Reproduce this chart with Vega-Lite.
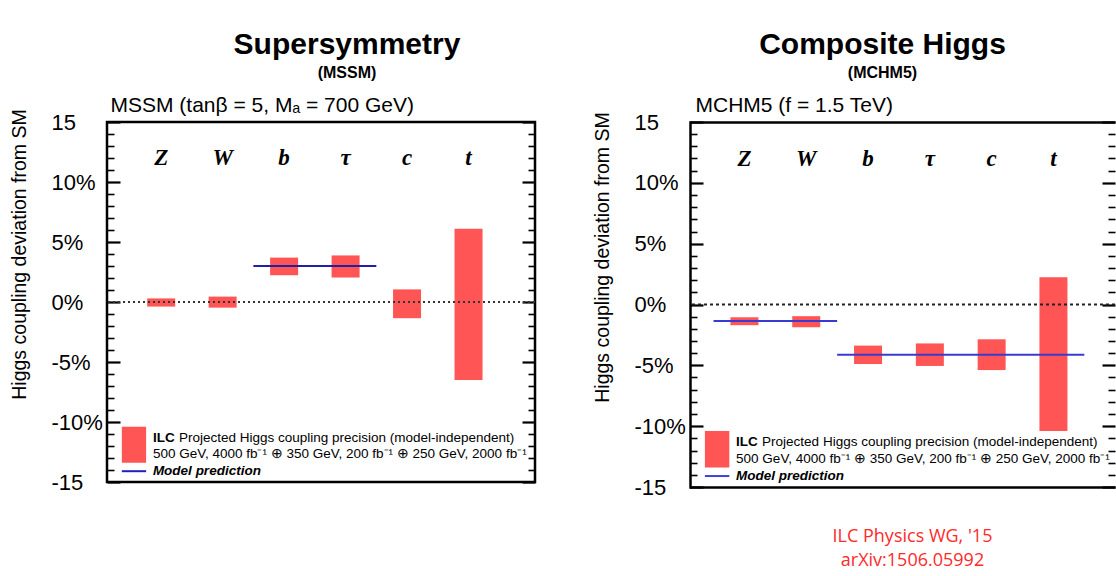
{
  "$schema": "https://vega.github.io/schema/vega-lite/v6.json",
  "background": "white",
  "padding": {"left": 7, "top": 28, "right": 0, "bottom": 0},
  "bounds": "flush",
  "spacing": 155,
  "config": {
    "view": {"stroke": "black", "strokeWidth": 2.5},
    "axis": {"grid": false},
    "font": "Liberation Sans"
  },
  "datasets": {
    "mssm_bars": [
      {"particle": "Z", "x": 1, "lo": -0.38, "hi": 0.3},
      {"particle": "W", "x": 2, "lo": -0.47, "hi": 0.45},
      {"particle": "b", "x": 3, "lo": 2.23, "hi": 3.7},
      {"particle": "τ", "x": 4, "lo": 2.04, "hi": 3.88},
      {"particle": "c", "x": 5, "lo": -1.35, "hi": 1.05},
      {"particle": "t", "x": 6, "lo": -6.5, "hi": 6.1}
    ],
    "mssm_model": [
      {"x": 2.5, "x2": 4.5, "y": 3.0}
    ],
    "mchm_bars": [
      {"particle": "Z", "x": 1, "lo": -1.7, "hi": -1.05},
      {"particle": "W", "x": 2, "lo": -1.87, "hi": -0.96},
      {"particle": "b", "x": 3, "lo": -4.89, "hi": -3.38},
      {"particle": "τ", "x": 4, "lo": -5.05, "hi": -3.2},
      {"particle": "c", "x": 5, "lo": -5.39, "hi": -2.86},
      {"particle": "t", "x": 6, "lo": -10.4, "hi": 2.23}
    ],
    "mchm_model": [
      {"x": 0.5, "x2": 2.5, "y": -1.35},
      {"x": 2.5, "x2": 6.5, "y": -4.12}
    ],
    "particles": [
      {"label": "Z", "x": 1},
      {"label": "W", "x": 2},
      {"label": "b", "x": 3},
      {"label": "τ", "x": 4},
      {"label": "c", "x": 5},
      {"label": "t", "x": 6}
    ]
  },
  "hconcat": [
    {
      "width": 428,
      "height": 360,
      "title": {"text": "Supersymmetry", "subtitle": "(MSSM)", "fontSize": 30, "fontWeight": "bold", "font": "Liberation Sans", "color": "black", "subtitleFont": "Liberation Sans", "subtitleFontSize": 16, "subtitleFontWeight": "bold", "subtitleColor": "black", "anchor": "middle", "dx": 26, "offset": 13, "subtitlePadding": 5},
      "layer": [
        {
          "data": {"name": "mssm_bars"},
          "mark": {"type": "bar", "color": "#ff5555", "size": 28},
          "encoding": {
            "x": {"field": "x", "type": "quantitative", "scale": {"domain": [0.2, 7], "nice": false, "zero": false},
              "axis": {"orient": "top", "labels": false, "ticks": false, "domain": false, "grid": false, "title": "MSSM (tanβ = 5, Mₐ = 700 GeV)", "titleFontSize": 21, "titleFontWeight": "normal", "titleColor": "black", "titleFont": "Liberation Sans", "titleAnchor": "start", "titleAlign": "left", "titleX": 3, "titlePadding": 7}},
            "y": {"field": "lo", "type": "quantitative", "scale": {"domain": [-15, 15], "nice": false, "zero": false},
              "axis": {"orient": "left", "values": [-15,-14,-13,-12,-11,-10,-9,-8,-7,-6,-5,-4,-3,-2,-1,0,1,2,3,4,5,6,7,8,9,10,11,12,13,14,15], "domain": false, "grid": false, "tickColor": "black",
                "tickSize": {"condition": {"test": "datum.value % 5 === 0", "value": -13}, "value": -7},
                "tickWidth": {"condition": {"test": "datum.value % 5 === 0", "value": 2.2}, "value": 1.6},
                "labelExpr": "datum.value % 5 !== 0 ? '' : (datum.value < 0 ? '-' : '') + abs(datum.value) + (abs(datum.value) === 15 ? '' : '%')",
                "labelAlign": "left", "labelBaseline": "middle", "labelPadding": 69, "labelFontSize": 22, "labelFont": "Liberation Sans", "labelColor": "black", "labelFlush": false, "labelOverlap": false, "labelBound": false,
                "title": "Higgs coupling deviation from SM", "titleFontSize": 19.5, "titleFontWeight": "normal", "titleColor": "black", "titleFont": "Liberation Sans", "titlePadding": 16, "titleY": 132}},
            "y2": {"field": "hi"}
          }
        },
        {
          "data": {"values": [{}]},
          "mark": {"type": "rule", "strokeDash": [2, 3], "color": "#333333", "strokeWidth": 2},
          "encoding": {
            "y": {"datum": 0, "type": "quantitative",
              "axis": {"orient": "right", "values": [-15,-14,-13,-12,-11,-10,-9,-8,-7,-6,-5,-4,-3,-2,-1,0,1,2,3,4,5,6,7,8,9,10,11,12,13,14,15], "domain": false, "grid": false, "labels": false, "title": null, "tickColor": "black",
                "tickSize": {"condition": {"test": "datum.value % 5 === 0", "value": -13}, "value": -7},
                "tickWidth": {"condition": {"test": "datum.value % 5 === 0", "value": 2.2}, "value": 1.6}}}
          }
        },
        {
          "data": {"name": "mssm_model"},
          "mark": {"type": "rule", "color": "#1f1fa8", "strokeWidth": 2},
          "encoding": {
            "x": {"field": "x", "type": "quantitative", "axis": null},
            "x2": {"field": "x2"},
            "y": {"field": "y", "type": "quantitative", "axis": null}
          }
        },
        {
          "data": {"name": "particles"},
          "mark": {"type": "text", "font": "Liberation Serif", "fontStyle": "italic", "fontWeight": "bold", "fontSize": 23, "align": "center", "baseline": "middle", "color": "black"},
          "encoding": {
            "x": {"field": "x", "type": "quantitative", "axis": null},
            "y": {"datum": 12, "type": "quantitative", "axis": null},
            "text": {"field": "label"}
          }
        },
        {
          "data": {"values": [{}]},
          "mark": {"type": "rect", "color": "#ff5555"},
          "encoding": {
            "x": {"datum": 0.36, "type": "quantitative", "axis": null},
            "x2": {"datum": 0.755},
            "y": {"datum": -10.4, "type": "quantitative", "axis": null},
            "y2": {"datum": -13.4}
          }
        },
        {
          "data": {"values": [{}]},
          "mark": {"type": "rule", "color": "#2020c0", "strokeWidth": 2},
          "encoding": {
            "x": {"datum": 0.36, "type": "quantitative", "axis": null},
            "x2": {"datum": 0.755},
            "y": {"datum": -14.1, "type": "quantitative", "axis": null}
          }
        },
        {
          "data": {"values": [{}]},
          "mark": {"type": "text", "align": "left", "baseline": "middle", "fontSize": 13.5, "fontWeight": "bold", "font": "Liberation Sans", "color": "black"},
          "encoding": {
            "x": {"datum": 0.865, "type": "quantitative", "axis": null},
            "y": {"datum": -11.3, "type": "quantitative", "axis": null},
            "text": {"value": "ILC"}
          }
        },
        {
          "data": {"values": [{}]},
          "mark": {"type": "text", "align": "left", "baseline": "middle", "fontSize": 13.5, "font": "Liberation Sans", "color": "black", "dx": 26},
          "encoding": {
            "x": {"datum": 0.865, "type": "quantitative", "axis": null},
            "y": {"datum": -11.3, "type": "quantitative", "axis": null},
            "text": {"value": "Projected Higgs coupling precision (model-independent)"}
          }
        },
        {
          "data": {"values": [{}]},
          "mark": {"type": "text", "align": "left", "baseline": "middle", "fontSize": 13.5, "font": "Liberation Sans", "color": "black"},
          "encoding": {
            "x": {"datum": 0.865, "type": "quantitative", "axis": null},
            "y": {"datum": -12.7, "type": "quantitative", "axis": null},
            "text": {"value": "500 GeV, 4000 fb⁻¹ ⊕ 350 GeV, 200 fb⁻¹ ⊕ 250 GeV, 2000 fb⁻¹"}
          }
        },
        {
          "data": {"values": [{}]},
          "mark": {"type": "text", "align": "left", "baseline": "middle", "fontSize": 13.5, "fontWeight": "bold", "fontStyle": "italic", "font": "Liberation Sans", "color": "black"},
          "encoding": {
            "x": {"datum": 0.865, "type": "quantitative", "axis": null},
            "y": {"datum": -14.1, "type": "quantitative", "axis": null},
            "text": {"value": "Model prediction"}
          }
        }
      ],
      "resolve": {"axis": {"x": "independent", "y": "independent"}}
    },
    {
      "width": 425,
      "height": 365,
      "view": {"stroke": null},
      "title": {"text": "Composite Higgs", "subtitle": "(MCHM5)", "fontSize": 30, "fontWeight": "bold", "font": "Liberation Sans", "color": "black", "subtitleFont": "Liberation Sans", "subtitleFontSize": 16, "subtitleFontWeight": "bold", "subtitleColor": "black", "anchor": "middle", "dx": -20, "offset": 13, "subtitlePadding": 5},
      "layer": [
        {
          "data": {"name": "mchm_bars"},
          "mark": {"type": "bar", "color": "#ff5555", "size": 28},
          "encoding": {
            "x": {"field": "x", "type": "quantitative", "scale": {"domain": [0.2, 6.915], "nice": false, "zero": false},
              "axis": {"orient": "top", "labels": false, "ticks": false, "domain": true, "domainColor": "black", "domainWidth": 2.5, "grid": false, "title": "MCHM5 (f = 1.5 TeV)", "titleFontSize": 21, "titleFontWeight": "normal", "titleColor": "black", "titleFont": "Liberation Sans", "titleAnchor": "start", "titleAlign": "left", "titleX": 5, "titlePadding": 7}},
            "y": {"field": "lo", "type": "quantitative", "scale": {"domain": [-15, 15], "nice": false, "zero": false},
              "axis": {"orient": "left", "values": [-15,-14,-13,-12,-11,-10,-9,-8,-7,-6,-5,-4,-3,-2,-1,0,1,2,3,4,5,6,7,8,9,10,11,12,13,14,15], "domain": true, "domainColor": "black", "domainWidth": 2.5, "domainCap": "square", "grid": false, "tickColor": "black",
                "tickSize": {"condition": {"test": "datum.value % 5 === 0", "value": -13}, "value": -7},
                "tickWidth": {"condition": {"test": "datum.value % 5 === 0", "value": 2.2}, "value": 1.6},
                "labelExpr": "datum.value % 5 !== 0 ? '' : (datum.value < 0 ? '-' : '') + abs(datum.value) + (abs(datum.value) === 15 ? '' : '%')",
                "labelAlign": "left", "labelBaseline": "middle", "labelPadding": 69, "labelFontSize": 22, "labelFont": "Liberation Sans", "labelColor": "black", "labelFlush": false, "labelOverlap": false, "labelBound": false,
                "title": "Higgs coupling deviation from SM", "titleFontSize": 19.5, "titleFontWeight": "normal", "titleColor": "black", "titleFont": "Liberation Sans", "titlePadding": 16, "titleY": 135}},
            "y2": {"field": "hi"}
          }
        },
        {
          "data": {"values": [{}]},
          "mark": {"type": "rule", "strokeDash": [3, 3], "color": "#222222", "strokeWidth": 2},
          "encoding": {
            "y": {"datum": 0, "type": "quantitative",
              "axis": {"orient": "right", "values": [-15,-14,-13,-12,-11,-10,-9,-8,-7,-6,-5,-4,-3,-2,-1,0,1,2,3,4,5,6,7,8,9,10,11,12,13,14,15], "domain": false, "grid": false, "labels": false, "title": null, "tickColor": "black",
                "tickSize": {"condition": {"test": "datum.value % 5 === 0", "value": -13}, "value": -7},
                "tickWidth": {"condition": {"test": "datum.value % 5 === 0", "value": 2.2}, "value": 1.6}}}
          }
        },
        {
          "data": {"name": "mchm_model"},
          "mark": {"type": "rule", "color": "#3a3ad0", "strokeWidth": 2},
          "encoding": {
            "x": {"field": "x", "type": "quantitative", "axis": null},
            "x2": {"field": "x2"},
            "y": {"field": "y", "type": "quantitative", "axis": null}
          }
        },
        {
          "data": {"name": "particles"},
          "mark": {"type": "text", "font": "Liberation Serif", "fontStyle": "italic", "fontWeight": "bold", "fontSize": 23, "align": "center", "baseline": "middle", "color": "black"},
          "encoding": {
            "x": {"field": "x", "type": "quantitative",
              "axis": {"orient": "bottom", "labels": false, "ticks": false, "domain": true, "domainColor": "black", "domainWidth": 2.5, "grid": false, "title": ["ILC Physics WG, '15", "arXiv:1506.05992"], "titleColor": "#ff2a2a", "titleFontSize": 18, "titleFontWeight": "normal", "titleFont": "Open Sans", "titlePadding": 40, "titleX": 222, "titleLineHeight": 24}},
            "y": {"datum": 12, "type": "quantitative", "axis": null},
            "text": {"field": "label"}
          }
        },
        {
          "data": {"values": [{}]},
          "mark": {"type": "rect", "color": "#ff5555"},
          "encoding": {
            "x": {"datum": 0.36, "type": "quantitative", "axis": null},
            "x2": {"datum": 0.755},
            "y": {"datum": -10.4, "type": "quantitative", "axis": null},
            "y2": {"datum": -13.4}
          }
        },
        {
          "data": {"values": [{}]},
          "mark": {"type": "rule", "color": "#4040d8", "strokeWidth": 2},
          "encoding": {
            "x": {"datum": 0.36, "type": "quantitative", "axis": null},
            "x2": {"datum": 0.755},
            "y": {"datum": -14.1, "type": "quantitative", "axis": null}
          }
        },
        {
          "data": {"values": [{}]},
          "mark": {"type": "text", "align": "left", "baseline": "middle", "fontSize": 13.5, "fontWeight": "bold", "font": "Liberation Sans", "color": "black"},
          "encoding": {
            "x": {"datum": 0.865, "type": "quantitative", "axis": null},
            "y": {"datum": -11.3, "type": "quantitative", "axis": null},
            "text": {"value": "ILC"}
          }
        },
        {
          "data": {"values": [{}]},
          "mark": {"type": "text", "align": "left", "baseline": "middle", "fontSize": 13.5, "font": "Liberation Sans", "color": "black", "dx": 26},
          "encoding": {
            "x": {"datum": 0.865, "type": "quantitative", "axis": null},
            "y": {"datum": -11.3, "type": "quantitative", "axis": null},
            "text": {"value": "Projected Higgs coupling precision (model-independent)"}
          }
        },
        {
          "data": {"values": [{}]},
          "mark": {"type": "text", "align": "left", "baseline": "middle", "fontSize": 13.5, "font": "Liberation Sans", "color": "black"},
          "encoding": {
            "x": {"datum": 0.865, "type": "quantitative", "axis": null},
            "y": {"datum": -12.7, "type": "quantitative", "axis": null},
            "text": {"value": "500 GeV, 4000 fb⁻¹ ⊕ 350 GeV, 200 fb⁻¹ ⊕ 250 GeV, 2000 fb⁻¹"}
          }
        },
        {
          "data": {"values": [{}]},
          "mark": {"type": "text", "align": "left", "baseline": "middle", "fontSize": 13.5, "fontWeight": "bold", "fontStyle": "italic", "font": "Liberation Sans", "color": "black"},
          "encoding": {
            "x": {"datum": 0.865, "type": "quantitative", "axis": null},
            "y": {"datum": -14.1, "type": "quantitative", "axis": null},
            "text": {"value": "Model prediction"}
          }
        }
      ],
      "resolve": {"axis": {"x": "independent", "y": "independent"}}
    }
  ]
}
